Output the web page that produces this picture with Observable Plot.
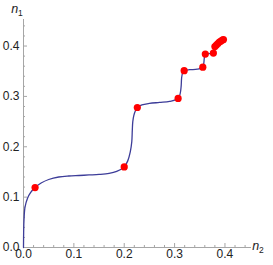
<!DOCTYPE html>
<html>
<head>
<meta charset="utf-8">
<script src="https://cdn.jsdelivr.net/npm/d3@7"></script>
<script src="https://cdn.jsdelivr.net/npm/@observablehq/plot@0.6"></script>
<style>
html, body { margin: 0; padding: 0; background: #fff; }
svg { display: block; }
</style>
</head>
<body>
<div id="chart"></div>
<script>
// Curve (n2, n1)
const curveN2 = [0, 0.0003, 0.001, 0.003, 0.008, 0.014, 0.023, 0.035, 0.05, 0.07, 0.09, 0.11, 0.13, 0.15, 0.17, 0.185, 0.2, 0.207, 0.212, 0.215, 0.216, 0.217, 0.219, 0.222, 0.226, 0.235, 0.25, 0.27, 0.29, 0.307, 0.311, 0.313, 0.314, 0.316, 0.319, 0.33, 0.345, 0.356, 0.358, 0.359, 0.361, 0.37, 0.377, 0.379, 0.380, 0.385, 0.389, 0.393, 0.397];
const curveN1 = [0, 0.03, 0.055, 0.08, 0.098, 0.109, 0.119, 0.128, 0.135, 0.140, 0.142, 0.143, 0.144, 0.145, 0.147, 0.151, 0.160, 0.172, 0.19, 0.21, 0.232, 0.25, 0.262, 0.271, 0.278, 0.283, 0.286, 0.288, 0.290, 0.296, 0.305, 0.32, 0.337, 0.347, 0.351, 0.353, 0.354, 0.358, 0.366, 0.376, 0.384, 0.385, 0.386, 0.393, 0.399, 0.404, 0.408, 0.410, 0.413];
// Red points
const ptN2 = [0.023, 0.200, 0.226, 0.307, 0.319, 0.356, 0.361, 0.377, 0.380, 0.383, 0.386, 0.389, 0.392, 0.395, 0.397];
const ptN1 = [0.119, 0.160, 0.278, 0.296, 0.351, 0.358, 0.384, 0.386, 0.399, 0.402, 0.405, 0.408, 0.410, 0.412, 0.413];
// Ticks
const majorTicks = [0, 0.1, 0.2, 0.3, 0.4];
const minorTicks = [0.02, 0.04, 0.06, 0.08, 0.12, 0.14, 0.16, 0.18, 0.22, 0.24, 0.26, 0.28, 0.32, 0.34, 0.36, 0.38, 0.42, 0.44];
const tickLabels = ["0.0", "0.1", "0.2", "0.3", "0.4"];

const curve = curveN2.map((x, i) => ({x, y: curveN1[i]}));
const pts = ptN2.map((x, i) => ({x, y: ptN1[i]}));

const W = 273, H = 265;
const mL = 23, mR = 22, mT = 19, mB = 18;
const innerH = H - mT - mB, innerW = W - mL - mR;
const axisColor = "#a6a6a6";

const chart = Plot.plot({
  width: W, height: H,
  marginLeft: mL, marginRight: mR, marginTop: mT, marginBottom: mB,
  style: {fontFamily: "Liberation Sans, Arial, sans-serif", fontSize: "12px", color: "#222", background: "#fff", overflow: "visible"},
  x: {domain: [0, 0.4527], axis: null},
  y: {domain: [0, 0.4527], axis: null},
  marks: [
    Plot.ruleX([0], {stroke: axisColor}),
    Plot.ruleY([0], {stroke: axisColor}),
    Plot.tickX(majorTicks, {x: d => d, stroke: axisColor, insetTop: innerH - 4}),
    Plot.tickX(minorTicks, {x: d => d, stroke: axisColor, insetTop: innerH - 2}),
    Plot.tickY(majorTicks, {y: d => d, stroke: axisColor, insetRight: innerW - 4}),
    Plot.tickY(minorTicks, {y: d => d, stroke: axisColor, insetRight: innerW - 2}),
    Plot.text(majorTicks, {x: d => d, frameAnchor: "bottom", dy: 10, text: (d, i) => tickLabels[i], fill: "#222"}),
    Plot.text(majorTicks, {y: d => d, frameAnchor: "left", dx: -4, textAnchor: "end", text: (d, i) => tickLabels[i], fill: "#222"}),
    Plot.line(curve, {x: "x", y: "y", stroke: "#3d3d99", strokeWidth: 1.3, curve: "catmull-rom"}),
    Plot.dot(pts, {x: "x", y: "y", r: 3.6, fill: "#ff0000", stroke: null})
  ]
});

// Axis labels with italic n and subscript
const svg = d3.select(chart);
function addLabel(x, y, sub) {
  const t = svg.append("text").attr("x", x).attr("y", y)
    .attr("font-family", "Liberation Sans, Arial, sans-serif").attr("font-size", 12.5).attr("fill", "#222");
  t.append("tspan").attr("font-style", "italic").text("n");
  t.append("tspan").attr("font-size", 8.5).attr("dy", 3).text(sub);
}
addLabel(17, 13, "1");
addLabel(258, 250, "2");

document.getElementById("chart").appendChild(chart);
</script>
</body>
</html>
